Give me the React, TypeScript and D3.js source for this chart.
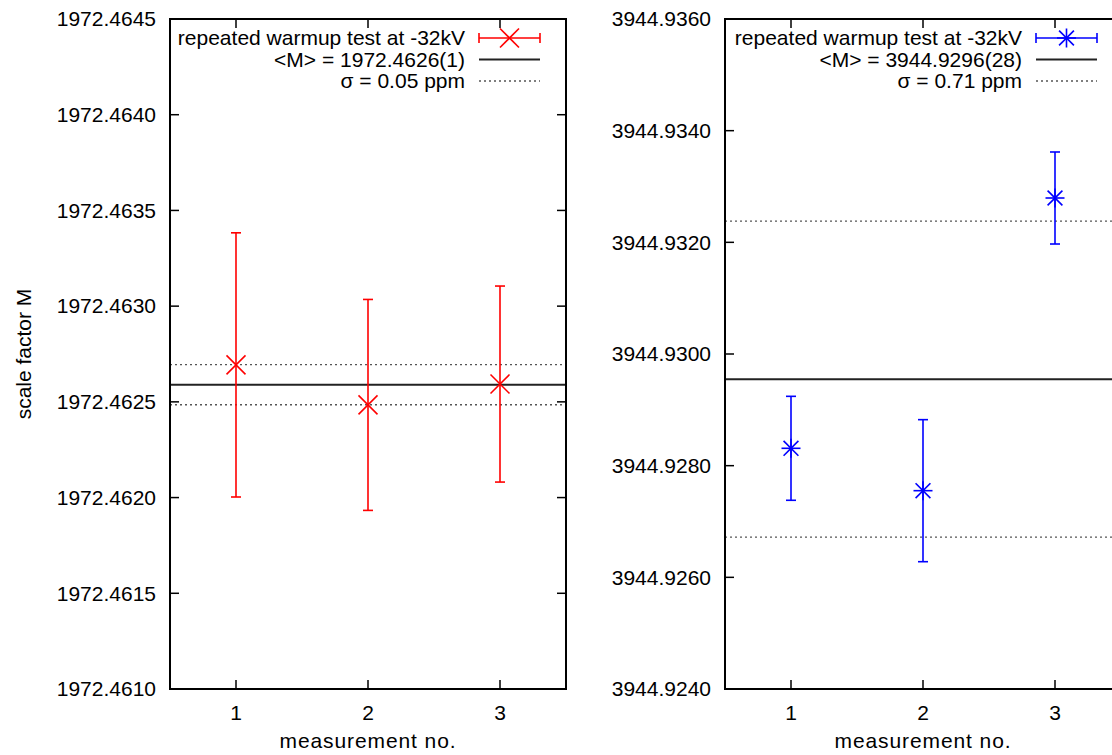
import React from "react";
import * as d3 from "d3";

// ---------- data ----------
const measurements = [1, 2, 3];
const xTicks = [1, 2, 3];

const leftValues = [1972.462693, 1972.462484, 1972.462593];
const leftErrors = [0.00069, 0.000551, 0.000512];
const leftMean = 1972.46259;
const leftSigma = 0.000105;
const leftTicks = [1972.461, 1972.4615, 1972.462, 1972.4625, 1972.463, 1972.4635, 1972.464, 1972.4645];
const leftDomain = [1972.461, 1972.4645];
const leftLegend = ["repeated warmup test at -32kV", "<M> = 1972.4626(1)", "σ = 0.05 ppm"];

const rightValues = [3944.928311, 3944.927552, 3944.932794];
const rightErrors = [0.000931, 0.001272, 0.000824];
const rightMean = 3944.92955;
const rightSigma = 0.00283;
const rightTicks = [3944.924, 3944.926, 3944.928, 3944.93, 3944.932, 3944.934, 3944.936];
const rightDomain = [3944.924, 3944.936];
const rightLegend = ["repeated warmup test at -32kV", "<M> = 3944.9296(28)", "σ = 0.71 ppm"];

const FONT = "'Liberation Sans', Arial, Helvetica, sans-serif";
const FS = 21;

type PanelProps = {
  left: number;
  right: number;
  top: number;
  bottom: number;
  values: number[];
  errors: number[];
  mean: number;
  sigma: number;
  ticks: number[];
  domain: number[];
  legend: string[];
  color: string;
  marker: "x" | "star";
  legendTextEnd: number;
};

function Marker({ cx, cy, type, color }: { cx: number; cy: number; type: "x" | "star"; color: string }) {
  const s = 9.5;
  const d = type === "x" ? s : s * 0.78;
  const paths = [`M${cx - d},${cy - d}L${cx + d},${cy + d}`, `M${cx - d},${cy + d}L${cx + d},${cy - d}`];
  if (type === "star") {
    paths.push(`M${cx - s},${cy}L${cx + s},${cy}`, `M${cx},${cy - s}L${cx},${cy + s}`);
  }
  return (
    <g stroke={color} strokeWidth={1.6} fill="none">
      {paths.map((p, i) => (
        <path key={i} d={p} />
      ))}
    </g>
  );
}

function Panel(p: PanelProps) {
  const x = d3.scaleLinear().domain([0.5, 3.5]).range([p.left, p.right]);
  const y = d3.scaleLinear().domain(p.domain).range([p.bottom, p.top]);
  const tickLen = 9;
  const cap = 5;
  const fmt = d3.format(".4f");
  const rowY = [38, 59.5, 81];
  const sampleX0 = p.legendTextEnd + 14;
  const sampleX1 = sampleX0 + 61;
  const sampleMid = (sampleX0 + sampleX1) / 2;
  return (
    <g>
      {/* sigma band lines */}
      {[p.mean + p.sigma, p.mean - p.sigma].map((v, i) => (
        <line key={"s" + i} x1={p.left} x2={p.right} y1={y(v)} y2={y(v)} stroke="#555" strokeWidth={1.3} strokeDasharray="2 3" />
      ))}
      {/* mean line */}
      <line x1={p.left} x2={p.right} y1={y(p.mean)} y2={y(p.mean)} stroke="#222" strokeWidth={2} />
      {/* error bars */}
      {measurements.map((m, i) => {
        const cx = x(m);
        const y0 = y(p.values[i] - p.errors[i]);
        const y1 = y(p.values[i] + p.errors[i]);
        return (
          <g key={"e" + i} stroke={p.color} strokeWidth={1.6}>
            <line x1={cx} x2={cx} y1={y0} y2={y1} />
            <line x1={cx - cap} x2={cx + cap} y1={y0} y2={y0} />
            <line x1={cx - cap} x2={cx + cap} y1={y1} y2={y1} />
          </g>
        );
      })}
      {measurements.map((m, i) => (
        <Marker key={"m" + i} cx={x(m)} cy={y(p.values[i])} type={p.marker} color={p.color} />
      ))}
      {/* border */}
      <rect x={p.left} y={p.top} width={p.right - p.left} height={p.bottom - p.top} fill="none" stroke="#000" strokeWidth={2} />
      {/* y ticks */}
      {p.ticks.map((t, i) => (
        <g key={"yt" + i}>
          <line x1={p.left} x2={p.left + tickLen} y1={y(t)} y2={y(t)} stroke="#000" strokeWidth={1.5} />
          <line x1={p.right} x2={p.right - tickLen} y1={y(t)} y2={y(t)} stroke="#000" strokeWidth={1.5} />
          <text x={p.left - 14} y={y(t)} dy="0.35em" textAnchor="end" fontFamily={FONT} fontSize={FS} fill="#000">
            {fmt(t)}
          </text>
        </g>
      ))}
      {/* x ticks */}
      {xTicks.map((t, i) => (
        <g key={"xt" + i}>
          <line x1={x(t)} x2={x(t)} y1={p.bottom} y2={p.bottom - tickLen} stroke="#000" strokeWidth={1.5} />
          <line x1={x(t)} x2={x(t)} y1={p.top} y2={p.top + tickLen} stroke="#000" strokeWidth={1.5} />
          <text x={x(t)} y={720} textAnchor="middle" fontFamily={FONT} fontSize={FS} fill="#000">
            {t}
          </text>
        </g>
      ))}
      <text x={(p.left + p.right) / 2} y={748} textAnchor="middle" fontFamily={FONT} fontSize={FS} letterSpacing={0.9} fill="#000">
        measurement no.
      </text>
      {/* legend */}
      {p.legend.map((s, i) => (
        <text key={"l" + i} x={p.legendTextEnd} y={rowY[i]} dy="0.35em" textAnchor="end" fontFamily={FONT} fontSize={FS} fill="#000">
          {s}
        </text>
      ))}
      <g stroke={p.color} strokeWidth={1.6}>
        <line x1={sampleX0} x2={sampleX1} y1={rowY[0]} y2={rowY[0]} />
        <line x1={sampleX0} x2={sampleX0} y1={rowY[0] - cap} y2={rowY[0] + cap} />
        <line x1={sampleX1} x2={sampleX1} y1={rowY[0] - cap} y2={rowY[0] + cap} />
      </g>
      <Marker cx={sampleMid} cy={rowY[0]} type={p.marker} color={p.color} />
      <line x1={sampleX0} x2={sampleX1} y1={rowY[1]} y2={rowY[1]} stroke="#222" strokeWidth={2} />
      <line x1={sampleX0} x2={sampleX1} y1={rowY[2]} y2={rowY[2]} stroke="#555" strokeWidth={1.3} strokeDasharray="2 3" />
    </g>
  );
}

export default function App() {
  return (
    <svg width={1112} height={755} style={{ position: "absolute", left: 0, top: 0, background: "#fff" }}>
      <rect x={0} y={0} width={1112} height={755} fill="#fff" />
      <text
        transform="translate(31,354) rotate(-90)"
        textAnchor="middle"
        fontFamily={FONT}
        fontSize={FS}
        fill="#000"
      >
        scale factor M
      </text>
      <Panel
        left={170}
        right={566}
        top={19}
        bottom={689}
        values={leftValues}
        errors={leftErrors}
        mean={leftMean}
        sigma={leftSigma}
        ticks={leftTicks}
        domain={leftDomain}
        legend={leftLegend}
        color="#ff0000"
        marker="x"
        legendTextEnd={465}
      />
      <Panel
        left={725}
        right={1121}
        top={19}
        bottom={689}
        values={rightValues}
        errors={rightErrors}
        mean={rightMean}
        sigma={rightSigma}
        ticks={rightTicks}
        domain={rightDomain}
        legend={rightLegend}
        color="#0000ff"
        marker="star"
        legendTextEnd={1022}
      />
    </svg>
  );
}
